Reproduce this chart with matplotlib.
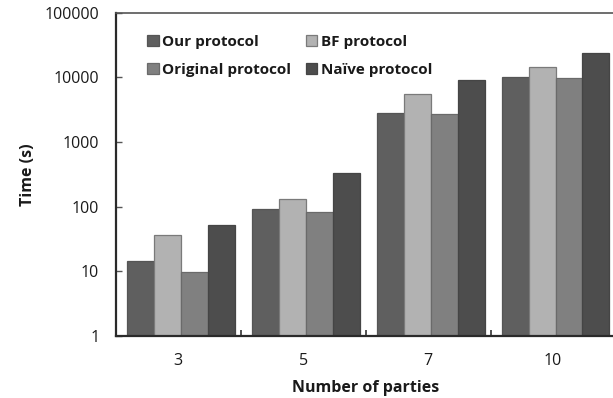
import numpy as np
import matplotlib
matplotlib.use("Agg")
import matplotlib.pyplot as plt
from matplotlib.ticker import FixedLocator, NullLocator

plt.rcParams['font.family'] = ['Open Sans', 'DejaVu Sans']

# data
parties = ["3", "5", "7", "10"]
series_names = ["Our protocol", "BF protocol", "Original protocol", "Na\u00efve protocol"]
our_protocol = [13.3, 91, 2780, 10000]
bf_protocol = [35.2, 130, 5460, 14600]
original_protocol = [8.8, 82, 2680, 9660]
naive_protocol = [50.8, 328, 9100, 23500]

series = [our_protocol, bf_protocol, original_protocol, naive_protocol]
colors = ["#5f5f5f", "#b2b2b2", "#808080", "#4d4d4d"]
edges = ["#555555", "#7a7a7a", "#6a6a6a", "#454545"]

fig = plt.figure(figsize=(6.13, 3.98), dpi=100)
ax = fig.add_axes([0.189, 0.156, 0.815, 0.812])

x = np.arange(len(parties))
width = 0.216
bars = []
for i, vals in enumerate(series):
    b = ax.bar(x + (i - 1.5) * width + 0.02, vals, width, bottom=1,
               color=colors[i], edgecolor=edges[i], linewidth=0.9,
               label=series_names[i], zorder=2)
    bars.append(b)

ax.set_yscale("log")
ax.set_ylim(1, 100000)
ax.set_xlim(-0.5, 3.5)

ax.yaxis.set_major_locator(FixedLocator([1, 10, 100, 1000, 10000, 100000]))
ax.yaxis.set_minor_locator(NullLocator())
ax.set_yticklabels(["1", "10", "100", "1000", "10000", "100000"])
ax.set_xticks(x)
ax.set_xticklabels(parties)
ax.set_xticks([0.5, 1.5, 2.5], minor=True)

ax.tick_params(axis="y", direction="in", length=4, width=1, color="#555555",
               labelsize=11.5, labelcolor="#1a1a1a", pad=12)
ax.tick_params(axis="x", which="major", length=0, labelsize=11.5,
               labelcolor="#1a1a1a", pad=12)
ax.tick_params(axis="x", which="minor", direction="in", length=4, width=1.2,
               color="#333333")

for side in ["left", "bottom"]:
    ax.spines[side].set_linewidth(1.6)
    ax.spines[side].set_color("#2a2a2a")
ax.spines["top"].set_linewidth(1.2)
ax.spines["top"].set_color("#555555")
ax.spines["right"].set_visible(False)

ax.set_xlabel("Number of parties", fontsize=11.5, fontweight="bold",
              color="#1a1a1a", labelpad=8)
ax.set_ylabel("Time (s)", fontsize=11.5, fontweight="bold",
              color="#1a1a1a", labelpad=6)

# legend: first column Our / Original, second column BF / Naive
order = [0, 2, 1, 3]
leg = ax.legend([bars[k] for k in order], [series_names[k] for k in order],
                ncol=2, loc="upper left", bbox_to_anchor=(0.035, 0.975),
                frameon=False, fontsize=11, handlelength=0.75,
                handleheight=0.75, handletextpad=0.25, columnspacing=0.95,
                labelspacing=0.95)
for t in leg.get_texts():
    t.set_fontweight("bold")
    t.set_color("#1a1a1a")

fig.savefig("out.png", dpi=100)
